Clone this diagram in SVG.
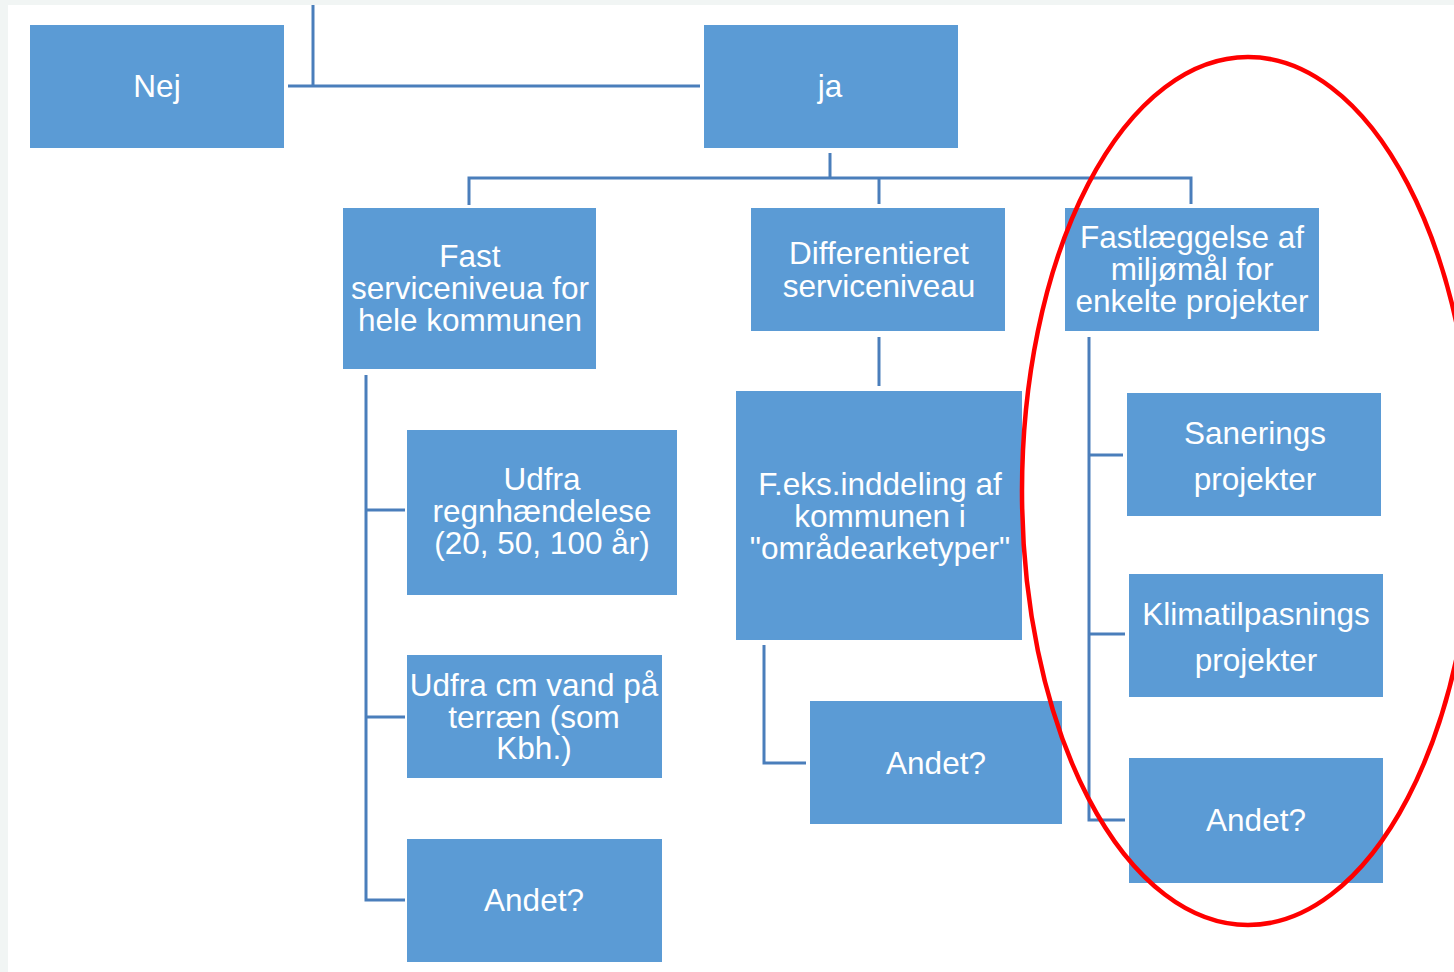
<svg xmlns="http://www.w3.org/2000/svg" width="1454" height="972" viewBox="0 0 1454 972">
<style>
.box{fill:#5b9bd5;}
.lbl{font-family:"Liberation Sans",Arial,sans-serif;font-size:31.5px;fill:#ffffff;text-anchor:middle;}
.con{fill:none;stroke:#4a7ebb;stroke-width:3;}
</style>
<rect x="0" y="0" width="1454" height="972" fill="#f1f5f4"/>
<rect x="8" y="5" width="1446" height="967" fill="#ffffff"/>
<g id="connectors">
<path class="con" d="M313 5 V87"/>
<path class="con" d="M288 86 H700"/>
<path class="con" d="M830 153 V178"/>
<path class="con" d="M469 205 V178 H1191 V204"/>
<path class="con" d="M879 178 V204"/>
<path class="con" d="M366 375 V900 H405"/>
<path class="con" d="M366 510 H405"/>
<path class="con" d="M366 717 H405"/>
<path class="con" d="M879 337 V386"/>
<path class="con" d="M764 645 V763 H806"/>
<path class="con" d="M1089 337 V820 H1125"/>
<path class="con" d="M1089 455 H1123"/>
<path class="con" d="M1089 634 H1125"/>
</g>
<g id="nej"><rect class="box" x="30" y="25" width="254" height="123"/><text class="lbl" x="157" y="97">Nej</text></g>
<g id="ja"><rect class="box" x="704" y="25" width="254" height="123"/><text class="lbl" x="830" y="97">ja</text></g>
<g id="fast"><rect class="box" x="343" y="208" width="253" height="161"/>
<text class="lbl" x="470" y="267">Fast</text><text class="lbl" x="470" y="299">serviceniveua for</text><text class="lbl" x="470" y="331">hele kommunen</text></g>
<g id="diff"><rect class="box" x="751" y="208" width="254" height="123"/>
<text class="lbl" x="879" y="264">Differentieret</text><text class="lbl" x="879" y="297">serviceniveau</text></g>
<g id="fastl"><rect class="box" x="1065" y="208" width="254" height="123"/>
<text class="lbl" x="1192" y="248">Fastlæggelse af</text><text class="lbl" x="1192" y="280">miljømål for</text><text class="lbl" x="1192" y="312">enkelte projekter</text></g>
<g id="udfra1"><rect class="box" x="407" y="430" width="270" height="165"/>
<text class="lbl" x="542" y="490">Udfra</text><text class="lbl" x="542" y="522">regnhændelese</text><text class="lbl" x="542" y="554">(20, 50, 100 år)</text></g>
<g id="udfra2"><rect class="box" x="407" y="655" width="255" height="123"/>
<text class="lbl" x="534" y="696">Udfra cm vand på</text><text class="lbl" x="534" y="728">terræn (som</text><text class="lbl" x="534" y="759">Kbh.)</text></g>
<g id="andet1"><rect class="box" x="407" y="839" width="255" height="123"/><text class="lbl" x="534" y="911">Andet?</text></g>
<g id="feks"><rect class="box" x="736" y="391" width="286" height="249"/>
<text class="lbl" x="880" y="495">F.eks.inddeling af</text><text class="lbl" x="880" y="527">kommunen i</text><text class="lbl" x="880" y="559">"områdearketyper"</text></g>
<g id="andet2"><rect class="box" x="810" y="701" width="252" height="123"/><text class="lbl" x="936" y="774">Andet?</text></g>
<g id="san"><rect class="box" x="1127" y="393" width="254" height="123"/>
<text class="lbl" x="1255" y="444">Sanerings</text><text class="lbl" x="1255" y="490">projekter</text></g>
<g id="klima"><rect class="box" x="1129" y="574" width="254" height="123"/>
<text class="lbl" x="1256" y="625">Klimatilpasnings</text><text class="lbl" x="1256" y="671">projekter</text></g>
<g id="andet3"><rect class="box" x="1129" y="758" width="254" height="125"/><text class="lbl" x="1256" y="831">Andet?</text></g>
<ellipse cx="1248" cy="491" rx="226" ry="434" fill="none" stroke="#ff0000" stroke-width="4.5"/>
</svg>
